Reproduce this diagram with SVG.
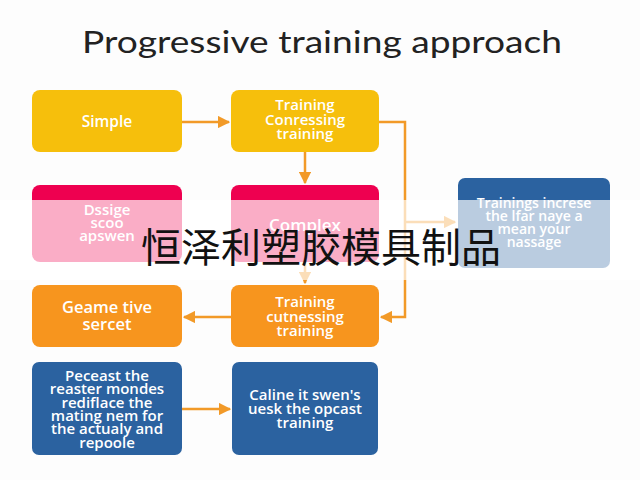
<svg xmlns="http://www.w3.org/2000/svg" width="640" height="480" viewBox="0 0 640 480">
<defs>
<marker id="ah" viewBox="0 0 10 10" refX="9" refY="5" markerWidth="5" markerHeight="5" orient="auto" markerUnits="strokeWidth">
<path d="M0,0 L10,5 L0,10 z" fill="#F29A28"/>
</marker>
<style>
.t{font-family:"Open Sans","Liberation Sans",sans-serif;font-weight:600;fill:#fff;text-anchor:middle}
.c{fill:none;stroke:#F29A28;stroke-width:2.5;marker-end:url(#ah)}
.yel{fill:#F6BF0C}
.org{fill:#F7951E}
.red{fill:#EE0050}
.blu{fill:#2B62A0}
</style>
</defs>
<rect width="640" height="480" fill="#FDFDFD"/>
<text x="322" y="53" font-family="Lato,'Open Sans',sans-serif" font-size="30" fill="#222" text-anchor="middle" textLength="480" lengthAdjust="spacingAndGlyphs">Progressive training approach</text>
<g id="connectors">
<path class="c" d="M182,122 H229"/>
<path class="c" d="M305,152 V183"/>
<path class="c" d="M379,122 H405 V317 H381"/>
<path class="c" d="M405,222 H455"/>
<path class="c" d="M305,262 V283"/>
<path class="c" d="M231,317 H184"/>
<path class="c" d="M182,409 H230"/>
</g>
<g id="simple"><rect class="yel" x="32" y="90" width="150" height="62" rx="8"/>
<text class="t" x="107" y="127" font-size="15.5">Simple</text></g>
<g id="training1"><rect class="yel" x="231" y="90" width="148" height="62" rx="8"/>
<text class="t" font-size="15"><tspan x="305" y="110">Training</tspan><tspan x="305" y="124.5">Conressing</tspan><tspan x="305" y="139">training</tspan></text></g>
<g id="design"><rect class="red" x="32" y="185" width="150" height="77" rx="8"/>
<text class="t" font-size="15"><tspan x="107" y="215">Dssige</tspan><tspan x="107" y="228">scoo</tspan><tspan x="107" y="241">apswen</tspan></text></g>
<g id="complex"><rect class="red" x="231" y="185" width="148" height="77" rx="8"/>
<text class="t" x="305" y="231" font-size="17">Complex</text></g>
<g id="trainings"><rect class="blu" x="458" y="178" width="152" height="90" rx="7"/>
<text class="t" font-size="14"><tspan x="534" y="208">Trainings increse</tspan><tspan x="534" y="221">the lfar naye a</tspan><tspan x="534" y="234">mean your</tspan><tspan x="534" y="247">nassage</tspan></text></g>
<g id="geame"><rect class="org" x="32" y="285" width="150" height="62" rx="8"/>
<text class="t" font-size="16.5"><tspan x="107" y="313">Geame tive</tspan><tspan x="107" y="329.5">sercet</tspan></text></g>
<g id="training2"><rect class="org" x="231" y="285" width="148" height="62" rx="8"/>
<text class="t" font-size="15"><tspan x="305" y="307">Training</tspan><tspan x="305" y="321.5">cutnessing</tspan><tspan x="305" y="336">training</tspan></text></g>
<g id="peceast"><rect class="blu" x="32" y="362" width="150" height="93" rx="7"/>
<text class="t" font-size="15"><tspan x="107" y="381">Peceast the</tspan><tspan x="107" y="394.3">reaster mondes</tspan><tspan x="107" y="407.6">rediflace the</tspan><tspan x="107" y="420.9">mating nem for</tspan><tspan x="107" y="434.2">the actualy and</tspan><tspan x="107" y="447.5">repoole</tspan></text></g>
<g id="caline"><rect class="blu" x="232" y="362" width="146" height="93" rx="7"/>
<text class="t" font-size="15"><tspan x="305" y="400">Caline it swen's</tspan><tspan x="305" y="414">uesk the opcast</tspan><tspan x="305" y="428">training</tspan></text></g>
<rect x="0" y="200" width="640" height="80" fill="#fff" opacity="0.68"/>
<text x="321" y="262" font-family="'Noto Sans CJK SC',sans-serif" font-size="40" fill="#111" text-anchor="middle">恒泽利塑胶模具制品</text>
</svg>
